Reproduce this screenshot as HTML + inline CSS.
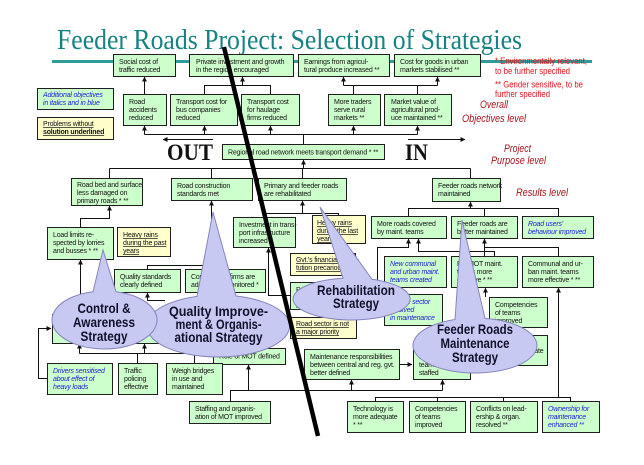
<!DOCTYPE html>
<html><head><meta charset="utf-8"><style>
html,body{margin:0;padding:0;background:#fff;}
svg{display:block;}
.g{fill:#ccffcc;stroke:#1e1e1e;stroke-width:1;}
.y{fill:#ffffcc;stroke:#1e1e1e;stroke-width:1;}
.t{font-family:"Liberation Sans",Arial,sans-serif;font-size:7px;letter-spacing:-0.2px;fill:#111;}
.b{fill:#1a1ad8;font-style:italic;}
.u{text-decoration:underline;}
.l{stroke:#111;stroke-width:1;fill:none;}
.c{fill:#c8c9f2;stroke:#8485bb;stroke-width:1;}
.ct{font-family:"Liberation Sans",Arial,sans-serif;font-size:14px;font-weight:bold;fill:#10102a;text-anchor:middle;}
.lv{font-family:"Liberation Sans",Arial,sans-serif;font-size:11px;font-style:italic;fill:#a8141c;}
.rd{font-family:"Liberation Sans",Arial,sans-serif;font-size:9px;fill:#e8141e;}
</style></head><body>
<svg width="644" height="465" viewBox="0 0 644 465" xmlns="http://www.w3.org/2000/svg">
<defs>
<marker id="a" viewBox="0 0 6 6" refX="5.5" refY="3" markerWidth="5" markerHeight="5" markerUnits="userSpaceOnUse" orient="auto"><path d="M0,0 L6,3 L0,6 z" fill="#111"/></marker>
</defs>

<!-- Title -->
<text x="57" y="49" font-family="'Liberation Serif',serif" font-size="29" fill="#178282" textLength="465" lengthAdjust="spacingAndGlyphs">Feeder Roads Project: Selection of Strategies</text>
<rect x="52" y="60" width="540" height="3" fill="#2e9c9c"/>

<!-- Connectors -->
<g class="l">
<path d="M144.5,94 V77" marker-end="url(#a)"/>
<path d="M204.5,94 V85.5 H270.5 V94"/>
<path d="M242.5,85.5 V77" marker-end="url(#a)"/>
<path d="M353.5,94 V85.5"/><path d="M417.5,94 V85.5"/>
<path d="M343.5,85.5 H437.5"/>
<path d="M343.5,85.5 V77" marker-end="url(#a)"/>
<path d="M437.5,85.5 V77" marker-end="url(#a)"/>
<path d="M144.5,134.5 H417.5"/>
<path d="M144.5,134.5 V126" marker-end="url(#a)"/>
<path d="M204.5,134.5 V126" marker-end="url(#a)"/>
<path d="M270.5,134.5 V126" marker-end="url(#a)"/>
<path d="M353.5,134.5 V126" marker-end="url(#a)"/>
<path d="M417.5,134.5 V126" marker-end="url(#a)"/>
<path d="M303.5,144 V134.5"/>
<path d="M213,139.5 H163" marker-end="url(#a)"/>
<path d="M408,139.5 H465" marker-end="url(#a)"/>
<path d="M303.5,168.5 V160" marker-end="url(#a)"/>
<path d="M109.5,168.5 H470.5"/>
<path d="M109.5,168.5 V178"/><path d="M211.5,168.5 V178"/><path d="M302.5,168.5 V178"/><path d="M470.5,168.5 V178"/>
<path d="M80.5,227 V218.5 H109.5 V206" marker-end="url(#a)"/>
<path d="M80.5,314 V260" marker-end="url(#a)"/>
<path d="M147.5,269 V265.5 H225.5 V269"/>
<path d="M211.5,265.5 V201" marker-end="url(#a)"/>
<path d="M165,300.5 H147.5 V293" marker-end="url(#a)"/>
<path d="M265.5,217 V213.5 H338.5 V215"/>
<path d="M302.5,213.5 V201" marker-end="url(#a)"/>
<path d="M290,295.5 H268.5 V248" marker-end="url(#a)"/>
<path d="M408.5,216 V208.5 H558.5 V216"/>
<path d="M484.5,208.5 V216"/>
<path d="M470.5,208.5 V202" marker-end="url(#a)"/>
<path d="M384,310.5 H377.5 V247.5 H408.5 V239" marker-end="url(#a)"/>
<path d="M494.5,256 V251.5 H418.5 V239" marker-end="url(#a)"/>
<path d="M484.5,256 V247.5 H558.5 V256"/>
<path d="M484.5,247.5 V239" marker-end="url(#a)"/>
<path d="M485.5,297 V288" marker-end="url(#a)"/>
<path d="M558.5,397.5 V288" marker-end="url(#a)"/>
<path d="M375.5,401 V397.5 H570.5 V401"/>
<path d="M437.5,397.5 V401"/><path d="M503.5,397.5 V401"/>
<path d="M399,364.5 H412" marker-end="url(#a)"/>
<path d="M230.5,401 V390.5 H442.5"/>
<path d="M351.5,390.5 V380" marker-end="url(#a)"/>
<path d="M442.5,390.5 V380" marker-end="url(#a)"/>
<path d="M248.5,390.5 V365" marker-end="url(#a)"/>
<path d="M47,378.5 H38.5 V328.5 H51" marker-end="url(#a)"/>
<path d="M79.5,353.5 H213"/>
<path d="M79.5,353.5 V344" marker-end="url(#a)"/>
<path d="M144.5,353.5 V344" marker-end="url(#a)"/>
<path d="M137.5,353.5 V363"/><path d="M194.5,353.5 V363"/>
</g>

<!-- Boxes -->
<g shape-rendering="crispEdges">
<rect class="g" x="113.5" y="54.5" width="62" height="22"/>
<rect class="g" x="189.5" y="54.5" width="104" height="22"/>
<rect class="g" x="298.5" y="54.5" width="91" height="22"/>
<rect class="g" x="394.5" y="54.5" width="86" height="22"/>
<rect class="g" x="123.5" y="94.5" width="43" height="31"/>
<rect class="g" x="170.5" y="94.5" width="67" height="31"/>
<rect class="g" x="241.5" y="94.5" width="58" height="31"/>
<rect class="g" x="328.5" y="94.5" width="52" height="31"/>
<rect class="g" x="384.5" y="94.5" width="67" height="31"/>
<rect class="g" x="37.5" y="88.5" width="76" height="21"/>
<rect class="y" x="37.5" y="117.5" width="76" height="22"/>
<rect class="g" x="222.5" y="144.5" width="162" height="15"/>
<rect class="g" x="71.5" y="178.5" width="71" height="27"/>
<rect class="g" x="171.5" y="178.5" width="81" height="22"/>
<rect class="g" x="258.5" y="178.5" width="88" height="22"/>
<rect class="g" x="432.5" y="178.5" width="68" height="23"/>
<rect class="g" x="47.5" y="227.5" width="66" height="32"/>
<rect class="y" x="117.5" y="227.5" width="53" height="29"/>
<rect class="g" x="233.5" y="217.5" width="62" height="30"/>
<rect class="y" x="312.5" y="215.5" width="53" height="28"/>
<rect class="g" x="371.5" y="216.5" width="75" height="22"/>
<rect class="g" x="451.5" y="216.5" width="66" height="22"/>
<rect class="g" x="522.5" y="216.5" width="71" height="22"/>
<rect class="g" x="114.5" y="269.5" width="66" height="23"/>
<rect class="g" x="185.5" y="269.5" width="80" height="23"/>
<rect class="y" x="290.5" y="253.5" width="65" height="22"/>
<rect class="g" x="290.5" y="282.5" width="50" height="27"/>
<rect class="y" x="290.5" y="317.5" width="66" height="21"/>
<rect class="g" x="384.5" y="256.5" width="62" height="31"/>
<rect class="g" x="451.5" y="256.5" width="66" height="31"/>
<rect class="g" x="522.5" y="256.5" width="71" height="31"/>
<rect class="g" x="384.5" y="294.5" width="58" height="31"/>
<rect class="g" x="489.5" y="297.5" width="58" height="30"/>
<rect class="g" x="490.5" y="335.5" width="57" height="30"/>
<rect class="g" x="52.5" y="314.5" width="108" height="29"/>
<rect class="g" x="213.5" y="348.5" width="72" height="16"/>
<rect class="g" x="304.5" y="349.5" width="95" height="30"/>
<rect class="g" x="413.5" y="349.5" width="57" height="30"/>
<rect class="g" x="47.5" y="363.5" width="65" height="31"/>
<rect class="g" x="118.5" y="363.5" width="39" height="31"/>
<rect class="g" x="166.5" y="363.5" width="56" height="31"/>
<rect class="g" x="189.5" y="401.5" width="81" height="22"/>
<rect class="g" x="347.5" y="401.5" width="56" height="31"/>
<rect class="g" x="409.5" y="401.5" width="56" height="31"/>
<rect class="g" x="470.5" y="401.5" width="67" height="31"/>
<rect class="g" x="542.5" y="401.5" width="57" height="31"/>
</g>

<!-- Box texts -->
<g class="t">
<text x="119" y="64">Social cost of</text><text x="119" y="72">traffic reduced</text>
<text x="196" y="64">Private investment and growth</text><text x="196" y="72">in the region encouraged</text>
<text x="304" y="64">Earnings from agricul-</text><text x="304" y="72">tural produce increased **</text>
<text x="400" y="64">Cost for goods in urban</text><text x="400" y="72">markets stabilised **</text>
<text x="129" y="104">Road</text><text x="129" y="112">accidents</text><text x="129" y="120">reduced</text>
<text x="176" y="104">Transport cost for</text><text x="176" y="112">bus companies</text><text x="176" y="120">reduced</text>
<text x="247" y="104">Transport cost</text><text x="247" y="112">for haulage</text><text x="247" y="120">firms reduced</text>
<text x="334" y="104">More traders</text><text x="334" y="112">serve rural</text><text x="334" y="120">markets **</text>
<text x="391" y="104">Market value of</text><text x="391" y="112">agricultural prod-</text><text x="391" y="120">uce maintained **</text>
<text x="43" y="97" class="b">Additional objectives</text><text x="43" y="105" class="b">in italics and in blue</text>
<text x="43" y="126" class="u">Problems without</text><text x="43" y="134" class="u" font-weight="bold">solution underlined</text>
<text x="228" y="154.5">Regional road network meets transport demand *  **</text>
<text x="77" y="187">Road bed and surface</text><text x="77" y="195">less damaged on</text><text x="77" y="203">primary roads *  **</text>
<text x="177" y="188">Road construction</text><text x="177" y="196">standards met</text>
<text x="264" y="188">Primary and feeder roads</text><text x="264" y="196">are rehabilitated</text>
<text x="438" y="188">Feeder roads network</text><text x="438" y="196">maintained</text>
<text x="53" y="237">Load limits re-</text><text x="53" y="245">spected by lorries</text><text x="53" y="253">and busses *  **</text>
<text x="123" y="237" class="u">Heavy rains</text><text x="123" y="245" class="u">during the past</text><text x="123" y="253" class="u">years</text>
<text x="239" y="227">Investment in trans-</text><text x="239" y="235">port infrastructure</text><text x="239" y="243">increased</text>
<text x="317" y="225" class="u">Heavy rains</text><text x="317" y="233" class="u">during the last</text><text x="317" y="241" class="u">years</text>
<text x="377" y="226">More roads covered</text><text x="377" y="234">by maint. teams</text>
<text x="457" y="226">Feeder roads are</text><text x="457" y="234">better maintained</text>
<text x="528" y="226" class="b">Road users'</text><text x="528" y="234" class="b">behaviour improved</text>
<text x="120" y="279">Quality standards</text><text x="120" y="287">clearly defined</text>
<text x="191" y="279">Construction firms are</text><text x="191" y="287">adequately monitored *</text>
<text x="296" y="262" class="u">Gvt.'s financial consti-</text><text x="296" y="270" class="u">tution precarious</text>
<text x="296" y="292">Private sector</text><text x="296" y="300">involved in</text><text x="296" y="308">rehabilitation</text>
<text x="296" y="326" class="u">Road sector is not</text><text x="296" y="334" class="u">a major priority</text>
<text x="390" y="266" class="b">New communal</text><text x="390" y="274" class="b">and urban maint.</text><text x="390" y="282" class="b">teams created</text>
<text x="457" y="266">PR/MOT maint.</text><text x="457" y="274">teams more</text><text x="457" y="282">effective *  **</text>
<text x="528" y="266">Communal and ur-</text><text x="528" y="274">ban maint. teams</text><text x="528" y="282">more effective *  **</text>
<text x="390" y="304" class="b">Private sector</text><text x="390" y="312" class="b">involved</text><text x="390" y="320" class="b">in maintenance</text>
<text x="495" y="307">Competencies</text><text x="495" y="315">of teams</text><text x="495" y="323">improved</text>
<text x="496" y="345">Salaries of</text><text x="496" y="353">teams adequate</text><text x="496" y="361">and timely</text>
<text x="58" y="324">Lorries fined</text><text x="58" y="332">for overloading</text>
<text x="219" y="358.5">Role of MOT defined</text>
<text x="310" y="359">Maintenance responsibilities</text><text x="310" y="367">between central and reg. gvt.</text><text x="310" y="375">better  defined</text>
<text x="419" y="359">MOT maint.</text><text x="419" y="367">teams adequately</text><text x="419" y="375">staffed</text>
<text x="53" y="373" class="b">Drivers sensitised</text><text x="53" y="381" class="b">about effect of</text><text x="53" y="389" class="b">heavy loads</text>
<text x="124" y="373">Traffic</text><text x="124" y="381">policing</text><text x="124" y="389">effective</text>
<text x="172" y="373">Weigh bridges</text><text x="172" y="381">in use and</text><text x="172" y="389">maintained</text>
<text x="195" y="411">Staffing and organis-</text><text x="195" y="419">ation of MOT improved</text>
<text x="353" y="411">Technology is</text><text x="353" y="419">more adequate</text><text x="353" y="427">*  **</text>
<text x="415" y="411">Competencies</text><text x="415" y="419">of teams</text><text x="415" y="427">improved</text>
<text x="476" y="411">Conflicts on lead-</text><text x="476" y="419">ership &amp; organ.</text><text x="476" y="427">resolved **</text>
<text x="548" y="411" class="b">Ownership for</text><text x="548" y="419" class="b">maintenance</text><text x="548" y="427" class="b">enhanced **</text>
</g>

<!-- OUT / IN -->
<text x="167" y="160" font-family="'Liberation Serif',serif" font-weight="bold" font-size="23" fill="#111" textLength="46" lengthAdjust="spacingAndGlyphs">OUT</text>
<text x="405" y="160" font-family="'Liberation Serif',serif" font-weight="bold" font-size="23" fill="#111" textLength="23" lengthAdjust="spacingAndGlyphs">IN</text>

<!-- Red notes -->
<text class="rd" x="495" y="64" textLength="92" lengthAdjust="spacingAndGlyphs">* Environmentally relevant,</text>
<text class="rd" x="495" y="74" textLength="75" lengthAdjust="spacingAndGlyphs">to be further specified</text>
<text class="rd" x="495" y="87.5" textLength="88" lengthAdjust="spacingAndGlyphs">** Gender sensitive, to be</text>
<text class="rd" x="495" y="97" textLength="55" lengthAdjust="spacingAndGlyphs">further specified</text>

<!-- Level labels -->
<text class="lv" x="480" y="108" textLength="28" lengthAdjust="spacingAndGlyphs">Overall</text>
<text class="lv" x="462" y="122" textLength="64" lengthAdjust="spacingAndGlyphs">Objectives level</text>
<text class="lv" x="504" y="152" textLength="27" lengthAdjust="spacingAndGlyphs">Project</text>
<text class="lv" x="491" y="164" textLength="55" lengthAdjust="spacingAndGlyphs">Purpose level</text>
<text class="lv" x="516" y="196" textLength="52" lengthAdjust="spacingAndGlyphs">Results level</text>

<!-- Callouts -->
<path class="c" d="M197,296.4 A71.5,31 0 1,0 236,296 L213,212 Z"/>
<text class="ct" x="218.5" y="316" textLength="99" lengthAdjust="spacingAndGlyphs">Quality Improve-</text>
<text class="ct" x="218.5" y="329" textLength="86" lengthAdjust="spacingAndGlyphs">ment &amp; Organis-</text>
<text class="ct" x="218.5" y="342" textLength="88" lengthAdjust="spacingAndGlyphs">ational Strategy</text>

<path class="c" d="M93,291.7 A52.5,29 0 1,0 116,291.7 L103,250 Z"/>
<text class="ct" x="104" y="313" textLength="53" lengthAdjust="spacingAndGlyphs">Control &amp;</text>
<text class="ct" x="104" y="327" textLength="62" lengthAdjust="spacingAndGlyphs">Awareness</text>
<text class="ct" x="104" y="341" textLength="47" lengthAdjust="spacingAndGlyphs">Strategy</text>

<path class="c" d="M343,278.2 A58.5,21 0 1,0 372,279.3 L320,207 Z"/>
<text class="ct" x="356" y="295" textLength="78" lengthAdjust="spacingAndGlyphs">Rehabilitation</text>
<text class="ct" x="356" y="308" textLength="46" lengthAdjust="spacingAndGlyphs">Strategy</text>

<path class="c" d="M455,319.5 A62,27.5 0 1,0 485,318.4 L462,220 Z"/>
<text class="ct" x="475" y="334" textLength="76" lengthAdjust="spacingAndGlyphs">Feeder Roads</text>
<text class="ct" x="475" y="348" textLength="69" lengthAdjust="spacingAndGlyphs">Maintenance</text>
<text class="ct" x="475" y="362" textLength="46" lengthAdjust="spacingAndGlyphs">Strategy</text>

<!-- Diagonal divider -->
<line x1="224" y1="47" x2="318" y2="436" stroke="#000" stroke-width="4.5"/>
</svg>
</body></html>
